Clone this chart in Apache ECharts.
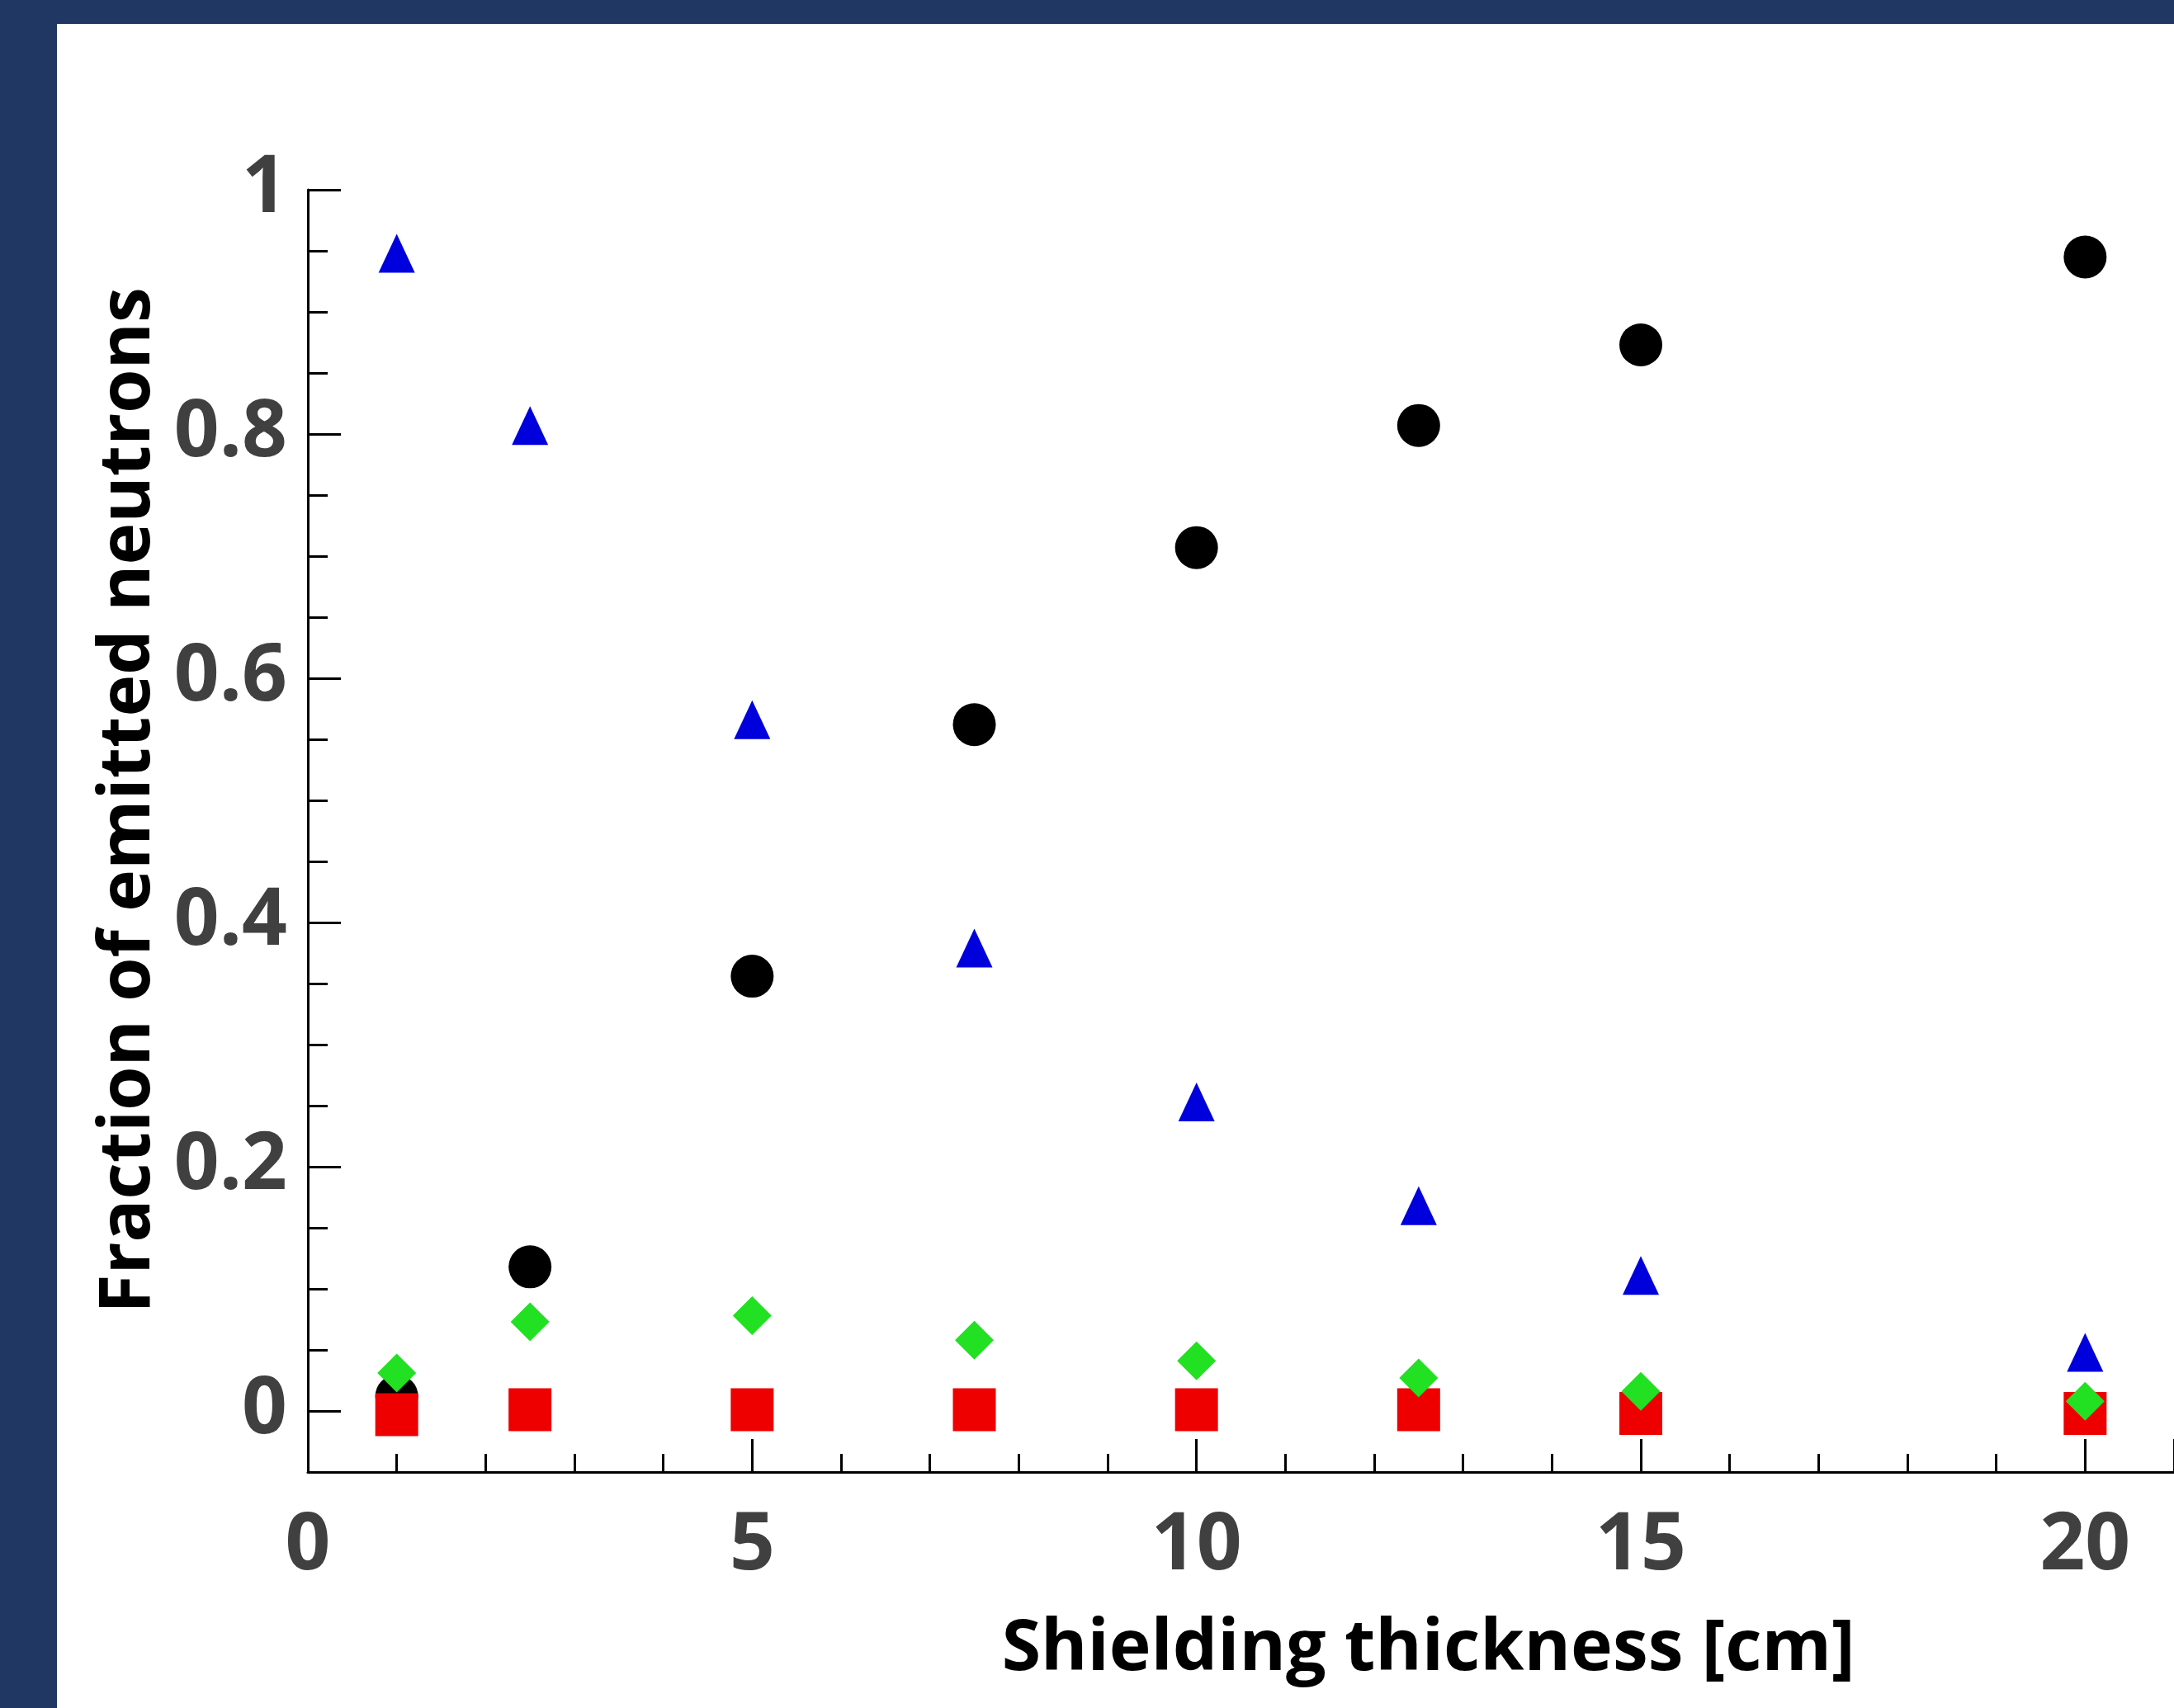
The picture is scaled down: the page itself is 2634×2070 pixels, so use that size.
<!DOCTYPE html>
<html>
<head>
<meta charset="utf-8">
<script src="https://cdn.jsdelivr.net/npm/echarts@6/dist/echarts.min.js"></script>
<style>
  html, body { margin: 0; padding: 0; width: 2634px; height: 2070px; background: #1f3762; overflow: hidden; }
  #chart { position: absolute; left: 69px; top: 29px; width: 2565px; height: 2041px; background: #ffffff; }
</style>
</head>
<body>
<div id="chart"></div>
<script>
// Shielding thickness [cm]
const thickness = [1, 2.5, 5, 7.5, 10, 12.5, 15, 20];
// Fraction of emitted neutrons, per series
const blackCircles  = [0.012, 0.118, 0.356, 0.562, 0.707, 0.807, 0.873, 0.945];
const blueTriangles = [0.948, 0.807, 0.566, 0.379, 0.253, 0.168, 0.111, 0.048];
const redSquares    = [-0.003, 0.001, 0.001, 0.001, 0.001, 0.001, -0.002, -0.002];
const greenDiamonds = [0.031, 0.073, 0.078, 0.058, 0.041, 0.027, 0.016, 0.008];
// axis tick labels
const xTickLabels = ['0', '5', '10', '15', '20'];
const yTickLabels = ['0', '0.2', '0.4', '0.6', '0.8', '1'];

const xTitle = 'Shielding thickness [cm]';
const yTitle = 'Fraction of emitted neutrons';

function pairs(ys) { return thickness.map((x, i) => [x, ys[i]]); }

const chart = echarts.init(document.getElementById('chart'));
const labelFont = { fontFamily: 'Open Sans', fontWeight: 'bold', fontSize: 96, color: '#404040' };
const titleFont = { fontFamily: 'Open Sans', fontWeight: 'bold', fontSize: 86, color: '#000' };
const tickStyle = { color: '#000', width: 3 };

chart.setOption({
  animation: false,
  backgroundColor: '#ffffff',
  grid: [
    // data grid: y from -0.05 to 1
    { left: 304, top: 201, right: 0, bottom: 286, containLabel: false, outerBoundsMode: 'none' },
    // tick/label overlay grid: y from 0 to 1 (same scale)
    { left: 304, top: 201, right: 0, bottom: 360, containLabel: false, outerBoundsMode: 'none' }
  ],
  xAxis: [
    {
      gridIndex: 0, type: 'value', min: 0, max: 21, interval: 5,
      axisLine: { show: true, onZero: false, lineStyle: tickStyle },
      axisTick: { show: true, inside: true, length: 40, lineStyle: tickStyle },
      minorTick: { show: true, splitNumber: 5, length: 22, lineStyle: tickStyle },
      splitLine: { show: false },
      axisLabel: Object.assign({ margin: 43, showMaxLabel: false,
        formatter: v => xTickLabels[Math.round(v / 5)] || '' }, labelFont),
      name: xTitle, nameLocation: 'middle', nameGap: 172,
      nameTextStyle: Object.assign({ padding: [0, 0, 0, 454] }, titleFont)
    },
    { gridIndex: 1, type: 'value', min: 0, max: 21, show: false }
  ],
  yAxis: [
    {
      gridIndex: 0, type: 'value', min: -0.05, max: 1,
      axisLine: { show: true, onZero: false, lineStyle: tickStyle },
      axisTick: { show: false }, minorTick: { show: false },
      axisLabel: { show: false }, splitLine: { show: false }
    },
    {
      gridIndex: 1, type: 'value', min: 0, max: 1, interval: 0.2,
      axisLine: { show: false, onZero: false },
      axisTick: { show: true, inside: true, length: 40, lineStyle: tickStyle },
      minorTick: { show: true, splitNumber: 4, length: 24, lineStyle: tickStyle },
      splitLine: { show: false },
      axisLabel: Object.assign({ margin: 25,
        formatter: v => yTickLabels[Math.round(v / 0.2)] || '' }, labelFont),
      name: yTitle, nameLocation: 'middle', nameGap: 138, nameRotate: 90,
      nameTextStyle: titleFont
    }
  ],
  series: [
    { name: 'black', type: 'scatter', xAxisIndex: 0, yAxisIndex: 0, data: pairs(blackCircles),
      symbol: 'circle', symbolSize: 52, itemStyle: { color: '#000000', opacity: 1 }, z: 2 },
    { name: 'blue', type: 'scatter', xAxisIndex: 0, yAxisIndex: 0, data: pairs(blueTriangles),
      symbol: 'triangle', symbolSize: [44, 47], itemStyle: { color: '#0000dd', opacity: 1 }, z: 3 },
    { name: 'red', type: 'scatter', xAxisIndex: 0, yAxisIndex: 0, data: pairs(redSquares),
      symbol: 'rect', symbolSize: [52, 52], itemStyle: { color: '#ee0000', opacity: 1 }, z: 4 },
    { name: 'green', type: 'scatter', xAxisIndex: 0, yAxisIndex: 0, data: pairs(greenDiamonds),
      symbol: 'diamond', symbolSize: [47, 47], itemStyle: { color: '#22e022', opacity: 1 }, z: 5 }
  ]
});
</script>
</body>
</html>
